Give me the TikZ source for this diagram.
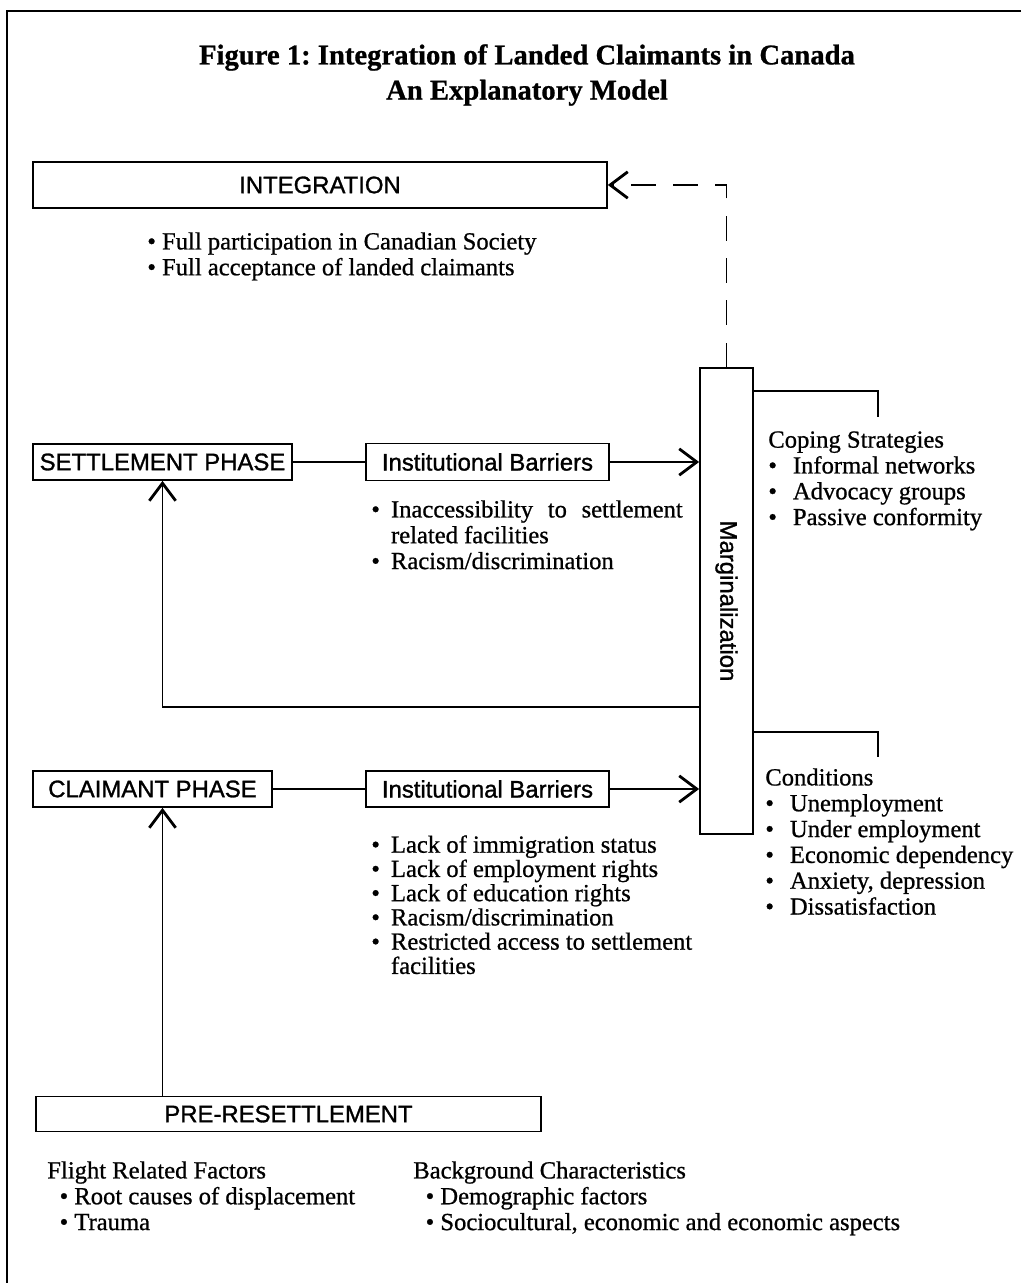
\documentclass[tikz,border=0pt]{standalone}
\usepackage{fontspec}
\usepackage{graphicx}
\setmainfont{Liberation Serif}[RawFeature={embolden=0.8}]
\newfontfamily\boxfont{Liberation Sans}[RawFeature={embolden=1.2}]
\usetikzlibrary{arrows.meta, positioning}

% bullet of a given width
\newcommand{\itm}[1][1em]{\makebox[#1][l]{\textbullet}}

\begin{document}
\begin{tikzpicture}[x=0.02cm, y=-0.02cm,
    phase/.style={draw, line width=1pt, inner sep=0pt, font=\boxfont\fontsize{13.6}{16}\selectfont},
    notes/.style={anchor=north west, inner sep=0pt, align=left, font=\fontsize{14}{14.7}\selectfont},
    link/.style={line width=1pt},
    flow/.style={link, -{Straight Barb[length=10pt, width=15pt, line width=1.6pt]}}]
    \useasboundingbox (0,0) rectangle (1021,1283);
    \draw[line width=1.2pt] (1021,11) -- (7,11) -- (7,1283);

    \node[align=center, font=\bfseries\fontsize{16.3}{20}\selectfont] (title) at (527,75)
        {Figure 1:\ Integration of Landed Claimants in Canada\\An Explanatory Model};

    % boxes
    \node[phase, minimum width=11.48cm, minimum height=0.92cm] (integ) at (320,185) {INTEGRATION};
    \node[phase, minimum width=5.18cm, minimum height=0.72cm] (settle) at (162.5,462) {SETTLEMENT PHASE};
    \node[phase, minimum width=4.86cm, minimum height=0.74cm] (inst1) at (487.5,462) {Institutional Barriers};
    \node[phase, minimum width=1.06cm, minimum height=9.32cm] (marg) at (726.5,601) {\rotatebox{-90}{Marginalization}};
    \node[phase, minimum width=4.78cm, minimum height=0.72cm] (claim) at (152.5,789) {CLAIMANT PHASE};
    \node[phase, minimum width=4.86cm, minimum height=0.72cm] (inst2) at (487.5,789) {Institutional Barriers};
    \node[phase, minimum width=10.1cm, minimum height=0.7cm] (pre) at (288.5,1114) {PRE-RESETTLEMENT};

    % notes
    \node[notes] (full) at (147,232) {\itm[0.6em]Full participation in Canadian Society\\
        \itm[0.6em]Full acceptance of landed claimants};
    \node[notes] (instnotes1) at (371,500) {\itm[0.8em]\makebox[166pt][s]{Inaccessibility to settlement}\\
        \hspace*{0.8em}related facilities\\
        \itm[0.8em]Racism/discrimination};
    \node[notes] (coping) at (768,431) {Coping Strategies\\
        \itm Informal networks\\
        \itm Advocacy groups\\
        \itm Passive conformity};
    \node[notes] (cond) at (765,768) {Conditions\\
        \itm Unemployment\\
        \itm Under employment\\
        \itm Economic dependency\\
        \itm Anxiety, depression\\
        \itm Dissatisfaction};
    \node[notes, font=\fontsize{14}{13.8}\selectfont] (instnotes2) at (371,835) {\itm[0.8em]Lack of immigration status\\
        \itm[0.8em]Lack of employment rights\\
        \itm[0.8em]Lack of education rights\\
        \itm[0.8em]Racism/discrimination\\
        \itm[0.8em]Restricted access to settlement\\
        \hspace*{0.8em}facilities};
    \node[notes] (flight) at (47,1161) {Flight Related Factors\\
        \hspace*{7pt}\itm[0.6em]Root causes of displacement\\
        \hspace*{7pt}\itm[0.6em]Trauma};
    \node[notes] (backgr) at (413,1161) {Background Characteristics\\
        \hspace*{7pt}\itm[0.6em]Demographic factors\\
        \hspace*{7pt}\itm[0.6em]Sociocultural, economic and economic aspects};

    % connectors
    \coordinate (loop) at (700,707);
    \coordinate (copetick) at (878,417);
    \coordinate (condtick) at (878,757);
    \draw[link] (settle) -- (inst1);
    \draw[link] (claim) -- (inst2);
    \draw[flow] (inst1) -- (inst1 -| marg.west);
    \draw[flow] (inst2) -- (inst2 -| marg.west);
    \draw[flow] (loop) -| (settle.south);
    \draw[flow] (pre.north -| settle.south) -- (claim.south -| settle.south);
    \draw[flow, dash pattern=on 14pt off 10pt] (marg.north) |- (integ.east);
    \draw[link] (marg.east |- 0,391) -| (copetick);
    \draw[link] (marg.east |- 0,732) -| (condtick);
\end{tikzpicture}
\end{document}
